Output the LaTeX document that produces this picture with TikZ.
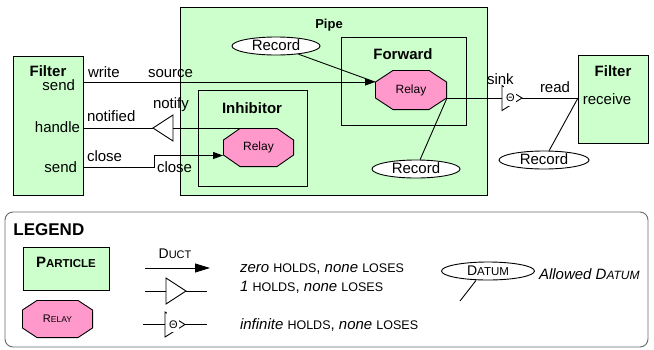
\documentclass[tikz,border=0pt]{standalone}
\usepackage{fontspec}
\setmainfont{Liberation Sans}
\usetikzlibrary{arrows.meta,shapes.geometric,calc}
\definecolor{pgreen}{RGB}{204,255,204}
\definecolor{ppink}{RGB}{255,153,204}
\definecolor{lgray}{RGB}{105,105,105}
\newcommand{\fsz}[1]{\fontsize{#1}{#1}\selectfont}
\newcommand{\smc}[1]{{\fontsize{12.5}{12.5}\selectfont #1}}
\begin{document}
\begin{tikzpicture}[x=1pt,y=-1pt,line width=0.9pt,
  box/.style={draw=black,fill=pgreen,rectangle,inner sep=0pt,outer sep=0pt},
  lbl/.style={inner sep=0pt,outer sep=0pt,font=\fsz{15}},
  blbl/.style={inner sep=0pt,outer sep=0pt,font=\fsz{15}\bfseries},
  rec/.style={ellipse,draw=black,fill=white,inner sep=0pt,minimum width=88pt,minimum height=18pt,text height=8pt,text depth=0pt,font=\fsz{15}},
  relay/.style 2 args={rectangle,inner sep=0pt,outer sep=0pt,font=\fsz{12},
    path picture={
      \path[fill=ppink,draw=black,line width=0.9pt]
       ([xshift=#1,yshift=-0.45pt]path picture bounding box.north west)
       -- ([xshift=-#1,yshift=-0.45pt]path picture bounding box.north east)
       -- ([xshift=-0.45pt,yshift=-#2]path picture bounding box.north east)
       -- ([xshift=-0.45pt,yshift=#2]path picture bounding box.south east)
       -- ([xshift=-#1,yshift=0.45pt]path picture bounding box.south east)
       -- ([xshift=#1,yshift=0.45pt]path picture bounding box.south west)
       -- ([xshift=0.45pt,yshift=#2]path picture bounding box.south west)
       -- ([xshift=0.45pt,yshift=-#2]path picture bounding box.north west)
       -- cycle;
    }},
  arr/.style={-{Triangle[length=10pt,width=7pt]}},
  bigarr/.style={-{Triangle[length=15pt,width=9pt]}},
  duct/.pic={
    \draw (0,-13) -- (20,0) -- (0,13) -- cycle;
    \coordinate (-in) at (0,0);
    \coordinate (-out) at (20,0);
  },
  thduct/.pic={
    \draw (0,-12.5) -- (20,0) -- (0,12.5) -- cycle;
    \fill[white] (1.5,-14) rectangle (14,7.5);
    \node[inner sep=0pt,font=\fsz{11}] (-th) at (8.5,0) {Θ};
    \coordinate (-in) at (0,0);
    \coordinate (-out) at (20,0);
  }
]
\useasboundingbox (0,0) rectangle (654,349);

% ---- boxes
\node[box,minimum width=70pt,minimum height=139pt] (lf) at (48,125.5) {};
\node[box,minimum width=307pt,minimum height=188pt] (pipe) at (333.5,101) {};
\node[box,minimum width=125pt,minimum height=88pt] (fwd) at (403.5,81) {};
\node[box,minimum width=109pt,minimum height=96pt] (inh) at (252.5,138) {};
\node[box,minimum width=70pt,minimum height=88pt] (rf) at (613,99) {};

% ---- box titles and port labels
\node[blbl,anchor=base] (tfl) at (48,76.5) {Filter};
\node[lbl,anchor=base east] (tsend1) at (75,90) {send};
\node[lbl,anchor=base east] (thandle) at (80,132) {handle};
\node[lbl,anchor=base east] (tsend2) at (77,172) {send};
\node[blbl,anchor=base,font=\fsz{13}\bfseries] (tpipe) at (329,28.3) {Pipe};
\node[blbl,anchor=base] (tfwd) at (403,59.3) {Forward};
\node[blbl,anchor=base] (tinh) at (252,113) {Inhibitor};
\node[blbl,anchor=base] (tfr) at (613,76) {Filter};
\node[lbl,anchor=base] (trecv) at (607,104) {receive};

\node[lbl,anchor=base west] (twrite) at (88,77.3) {write};
\node[lbl,anchor=base west] (tsource) at (148,77.3) {source};
\node[lbl,anchor=base west] (tnotified) at (87,121) {notified};
\node[lbl,anchor=base west] (tnotify) at (153,108) {notify};
\node[lbl,anchor=base west] (tclose1) at (87,161) {close};
\node[lbl,anchor=base west] (tclose2) at (157,172) {close};
\node[lbl,anchor=base west] (tsink) at (487,84) {sink};
\node[lbl,anchor=base west] (tread) at (540,92.7) {read};

% ---- relays and records
\node[relay={18pt}{12pt},minimum width=72pt,minimum height=40pt] (fr) at (411,90) {Relay};
\node[relay={17pt}{12pt},minimum width=71pt,minimum height=39pt] (ir) at (258.5,147.5) {Relay};
\node[rec] (rec1) at (276,46) {Record};
\node[rec] (rec2) at (416,169) {Record};
\node[rec,minimum width=90pt] (rec3) at (544,160) {Record};

% ---- ducts
\pic (nt) [xscale=-1] at (173,128) {duct};
\pic (snk) at (502,98) {thduct};

% ---- connectors
\coordinate (fwin) at ([yshift=8pt]fr.west);
\coordinate (fwout) at ([yshift=-8pt]fr.east);
\coordinate (irin) at ([yshift=-8pt]ir.west);
\coordinate (irtop) at ([xshift=16pt]ir.north);
\draw[arr] (lf.east |- fwin) -- (fwin);
\draw (rec1) -- (fwin);
\draw (rec2) -- (fwout);
\draw (irtop) -- (irtop -| nt-in);
\draw (nt-out) -- (nt-out -| lf.east);
\draw[arr] (lf.east |- 0,167) -- ++(71,0) |- (irin);
\draw (fwout) -- (snk-in);
\coordinate (rfin) at (rf.west |- snk-out);
\draw (snk-out) -- (rfin);
\draw (rec3) -- (rfin);

% ---- legend
\node[draw=lgray,rounded corners=8pt,minimum width=643pt,minimum height=135pt,inner sep=0pt] (leg) at (326.5,279.5) {};
\node[inner sep=0pt,anchor=base west,font=\fsz{17}\bfseries] (tleg) at (13,235.7) {LEGEND};
\node[box,minimum width=86pt,minimum height=43pt,text height=10pt,text depth=13pt,font=\fsz{15}\bfseries] (part) at (66,268.5) {P{\fsz{11.5}ARTICLE}};
\node[relay={15pt}{10pt},minimum width=71pt,minimum height=38pt,font=\fsz{11}] (lrel) at (57.5,319) {R{\fsz{8.5}ELAY}};

\node[lbl,anchor=base,font=\fsz{14}] (tduct) at (175,258) {D{\fsz{11}UCT}};
\coordinate (da) at (145,268);
\coordinate (db) at (210,268);
\draw[bigarr] (da) -- (db);

\pic (t1) at (166,291) {duct};
\coordinate (t1a) at (145,291);
\coordinate (t1b) at (207,291);
\draw (t1a) -- (t1-in);
\draw (t1-out) -- (t1b);

\pic (t2) at (165,324.5) {thduct};
\coordinate (t2a) at (143,324.5);
\coordinate (t2b) at (207,324.5);
\draw (t2a) -- (t2-in);
\draw (t2-out) -- (t2b);

\node[lbl,anchor=base west] (l1) at (240,272) {\textit{zero} \smc{HOLDS}, \textit{none} \smc{LOSES}};
\node[lbl,anchor=base west] (l2) at (240,291.5) {\textit{1} \smc{HOLDS}, \textit{none} \smc{LOSES}};
\node[lbl,anchor=base west] (l3) at (240,329) {\textit{infinite} \smc{HOLDS}, \textit{none} \smc{LOSES}};

\node[rec,minimum width=93pt,font=\fsz{14}] (datum) at (488,271) {D{\fsz{11.5}ATUM}};
\coordinate (dtip) at (460,301);
\draw ([xshift=-12pt]datum.south) -- (dtip);
\node[lbl,anchor=base west,font=\fsz{15}\itshape] (tallow) at (539,279) {Allowed D{\fsz{12}ATUM}};
\end{tikzpicture}
\end{document}
